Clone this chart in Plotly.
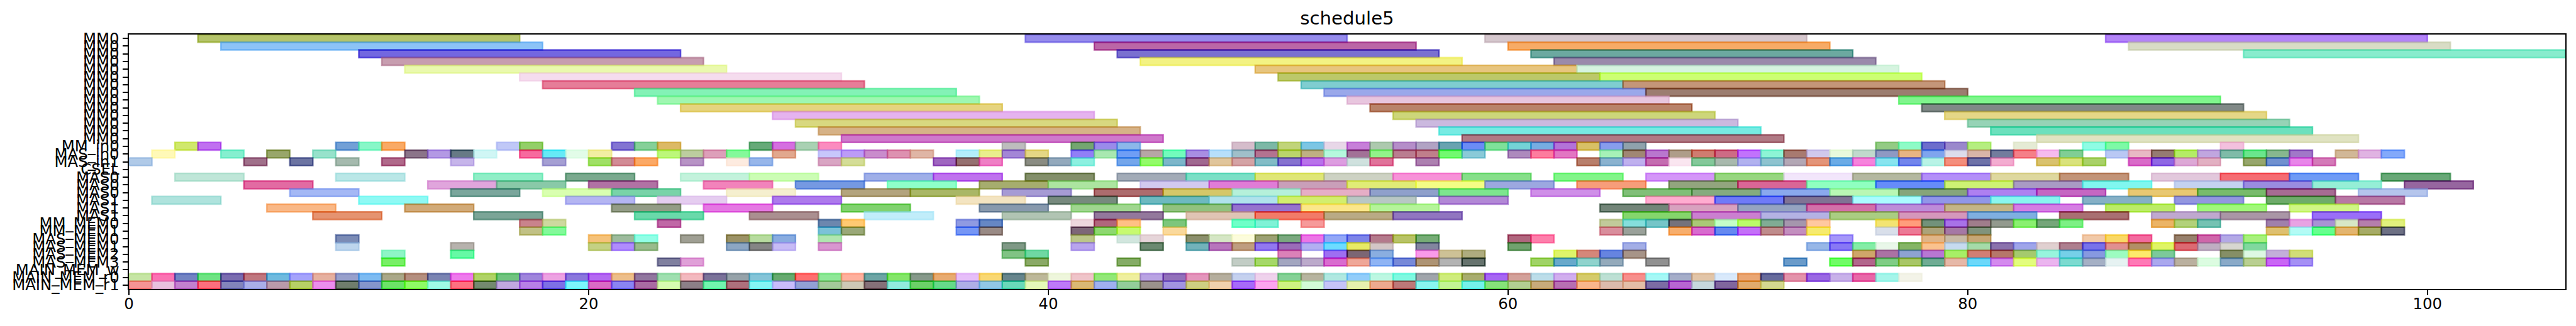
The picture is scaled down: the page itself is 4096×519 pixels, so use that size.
import plotly.graph_objects as go

chart_title = "schedule5"
x_tick_values = [0, 20, 40, 60, 80, 100]
row_labels = ["MM0"] * 14 + ["MM_in0", "MAS_in0", "MAS_in1", "CSEL", "MAS0", "MAS0", "MAS0", "MAS1", "MAS1", "MAS1",
              "MM_MEM0", "MM_MEM1", "MAS_MEM0", "MAS_MEM1", "MAS_MEM2", "MAS_MEM3", "MAIN_MEM_w", "MAIN_MEM_r0", "MAIN_MEM_r1"]
row_durations = [14] * 14 + [1, 1, 1, 1, 3, 3, 3, 3, 3, 3] + [1] * 9

# Each row: task start times, and the colour each task appears with on white.
s00 = [3, 39, 59, 86]
c00 = ["#b5c46b", "#968cec", "#d5c7cd", "#b384f7"]
s01 = [4, 42, 60, 87]
c01 = ["#8cc3f7", "#bb66a6", "#f7ab64", "#d8dcc5"]
s02 = [10, 43, 61, 92]
c02 = ["#7367e0", "#7a70d0", "#6ca9a0", "#88eccd"]
s03 = [11, 44, 62]
c03 = ["#c79daf", "#f3f283", "#9a8aab"]
s04 = [12, 49, 63]
c04 = ["#eaf9ae", "#e7c57f", "#d6f4e0"]
s05 = [17, 50, 64]
c05 = ["#f5dcee", "#bcc86a", "#ccff73"]
s06 = [18, 51, 65]
c06 = ["#e67d98", "#7fcdd0", "#c49679"]
s07 = [22, 52, 66]
c07 = ["#83f2b6", "#9aa8ea", "#9c7d70"]
s08 = [23, 53, 77]
c08 = ["#9ff7b1", "#e8c6de", "#80f58d"]
s09 = [24, 54, 78]
c09 = ["#e6d47f", "#b9836a", "#808987"]
s10 = [28, 55, 79]
c10 = ["#e5b3ef", "#cdd67a", "#e5d787"]
s11 = [29, 56, 80]
c11 = ["#d8d880", "#cbb9df", "#96d3b6"]
s12 = [30, 57, 81]
c12 = ["#d6b287", "#77ebe3", "#6ce0bd"]
s13 = [31, 58, 83]
c13 = ["#cf78cb", "#b07a85", "#e0e3c2"]

s14 = [2, 3, 9, 10, 11, 16, 17, 21, 22, 23, 27, 28, 29, 30, 38, 41, 42, 43,
       48, 49, 50, 51, 52, 53, 54, 55, 56, 57, 58, 59, 60, 61, 62, 63, 64, 65,
       76, 77, 78, 79, 80, 82, 85, 86, 91]
c14 = ["#d0e86c", "#c070f0", "#72a0d6", "#88f7c8", "#f9aa60", "#c0c8f7", "#93cf68", "#8374d2", "#85d098", "#dcb964",
       "#65aa78", "#d56fe0", "#a9d1b3", "#fb8cbf", "#bdbdbd", "#74a670", "#9a8bea", "#8cb8ea",
       "#d5bdcb", "#7cb8a6", "#c1d47a", "#7cc6e4", "#e8d7e8", "#c77fd9", "#adc9ae", "#b58ec9", "#b1a3c4", "#68a3b0",
       "#6b8cf5", "#7fe19a", "#74d4d6", "#76ade2", "#b373d8", "#d8c060", "#879ded", "#8fa2ac",
       "#93cb84", "#8efbc7", "#6d6dcc", "#9a88cc", "#b5ee80", "#e5ebd5", "#8ffce4", "#7dfaa6", "#f3c0de"]
s15 = [1, 4, 6, 8, 12, 13, 14, 15, 17, 18, 19, 20, 23, 24, 25, 26, 28, 30, 31, 32, 33, 34, 36, 37, 38, 39, 41, 42,
       43, 44, 45, 46, 47, 48, 49, 50, 51, 52, 53, 54, 55, 56, 57, 58, 60, 61, 62, 64, 65, 66,
       67, 68, 69, 70, 71, 72, 73, 74, 75, 76, 77, 78, 79, 80, 81, 82, 83, 84, 86, 87,
       88, 89, 90, 91, 92, 93, 94, 96, 97, 98]
c15 = ["#fff9b8", "#85efcf", "#98a66a", "#97e2cb", "#8b7489", "#b399e4", "#677a85", "#d0f6f5", "#f76a9e", "#64eaf6",
       "#e2fce8", "#f2eea2", "#bcf77a", "#bccd9f", "#dd9fb9", "#84f99a", "#e1a88e", "#c7c7fb", "#bc9bf7", "#c98ccc",
       "#dd91b0", "#dfb5a5", "#b3eefb", "#e9ef8d", "#a386d6", "#e4d785", "#917ff7", "#a8e8b0",
       "#6f9ef5", "#b7a6a5", "#72fcbc", "#a88ee3", "#b7dffa", "#a0bfc9", "#b47390", "#bad56b", "#bfb083", "#b5f8dd",
       "#a27297", "#92f38a", "#ba7d90", "#c07f8b", "#72f970", "#8acad8", "#ad8abd", "#fd7c9e", "#e276c2", "#a6f1b7",
       "#a08774", "#b977ce",
       "#ae9d89", "#cf7c70", "#ce6b85", "#c272fc", "#8df4d5", "#a87a70", "#d0c8ec", "#e8f9dc", "#c0d9cc", "#8f99c3",
       "#e8b484", "#7fa5ee", "#dcdceb", "#d8b5a8", "#727c9d", "#f57f88", "#f6bbee", "#80ce95", "#b9c8f4", "#e8b8c4",
       "#957b72", "#b4ec60", "#c0a6df", "#7fbba8", "#6ae68c", "#87b78f", "#a178c8", "#d1b797", "#e0b3e2", "#83a9fa"]
s16 = [0, 5, 7, 9, 11, 14, 18, 20, 21, 22, 24, 26, 27, 30, 31, 35, 36, 37, 39, 40, 41,
       43, 44, 45, 46, 47, 48, 49, 50, 51, 52, 53, 54, 56, 63, 64, 65, 66,
       67, 68, 69, 70, 71, 72, 73, 74, 75, 76, 77, 78, 79, 80, 81, 83, 84, 85, 87, 88, 89, 90,
       92, 93, 94, 95]
c16 = ["#b0cae8", "#a0708a", "#6c74a2", "#a5baae", "#b0698a", "#c6b5ea", "#a59fd3", "#a0e062", "#d28b95", "#fba964",
       "#b793c5", "#fdebe0", "#97b6ea", "#d9a5c3", "#d4dd97", "#9f66c0", "#957070", "#ef7fc5", "#8a8c82", "#93a9bc", "#8cf0e0",
       "#74a6eb", "#93fb69", "#7cb6ca", "#a06890", "#e0c59b", "#d4a3a5", "#82bcc6", "#8672cf", "#b872ea", "#dd9de0",
       "#cfe1de", "#e0739a", "#ad80b0", "#b87f6c", "#8ab2cf", "#bfb0ee", "#c46cb0",
       "#fae6f0", "#84c89a", "#a8b9ad", "#b1b1ef", "#8ec3cf", "#b3a7b5", "#e39479", "#6babe6", "#f683dc", "#88e4ef",
       "#7285ec", "#b8f3e6", "#f48e7c", "#6e72a8", "#f3acd0", "#d9c26e", "#d9e27c", "#a9d168", "#d96bc8", "#8f67e4",
       "#dda8d6", "#e2b0c2",
       "#97a66c", "#7090cf", "#e885e9", "#d47ab8"]
s17 = []
c17 = []

s18 = [2, 9, 15, 19, 24, 27, 32, 35, 39, 43, 46, 49, 52, 55, 58, 62, 66, 69, 72, 75, 78, 81, 84, 88, 91, 94, 98]
c18 = ["#bfe6d8", "#bae7e7", "#90eec7", "#7aa98e", "#c3f2dc", "#ccfdb5", "#9fafe8", "#bf72ee", "#838f6a", "#a2abb7",
       "#7bdfc6", "#dfe677", "#cdd2c3", "#f792d8", "#86df8a", "#82f58a", "#d496f8", "#97d680", "#f2e6fb", "#b4b8a0",
       "#b38ff8", "#ded89f", "#c29478", "#e2c8dc", "#f56c72", "#6f9bf5", "#68a877"]
s19 = [5, 13, 16, 20, 25, 29, 33, 37, 40, 44, 47, 50, 53, 56, 59, 63, 67, 70, 73, 76, 79, 82, 85, 89, 92, 95, 99]
c19 = ["#e26ba2", "#e0a5dc", "#89c9a8", "#b172a4", "#f283bb", "#7599e2", "#8effc9", "#a6ad6e", "#ace5a0", "#d2c9ef",
       "#e07cd6", "#c99fb9", "#e0ec76", "#f4fd85", "#9ca8e0", "#f79d7a", "#92a57e", "#da6696", "#8fffc0", "#668cfa",
       "#cdf274", "#a99ac4", "#80f7ef", "#c4d2f0", "#9a8ce0", "#95efd6", "#96649f"]
s20 = [7, 14, 18, 21, 26, 31, 34, 38, 42, 45, 48, 51, 54, 57, 61, 65, 68, 71, 74, 77, 80, 83, 87, 90, 93, 97]
c20 = ["#a4b8f5", "#7aa69c", "#d9ffb0", "#79d3a8", "#f5efcf", "#b3a47e", "#a9b763", "#a69bd4", "#ad6c6e", "#d5c769",
       "#b5f0da", "#e6aec6", "#8fa0cb", "#7de58e", "#cf8fe8", "#80bf78", "#85ab7f", "#8aa9ee", "#b9f7b4", "#86a57a",
       "#ae80f0", "#c566c2", "#e8c872", "#78bb6c", "#a66b92", "#b5c5ec"]
s21 = [1, 10, 19, 23, 28, 36, 40, 44, 47, 50, 53, 57, 66, 69, 72, 75, 78, 81, 85, 89, 93, 96]
c21 = ["#afe3dd", "#8ff9f4", "#b4b5f2", "#e5cdf0", "#ad7aec", "#f3e4c1", "#778a7e", "#6db9c0", "#b0e2ec", "#d3ee6e",
       "#b8c7c4", "#b288d6", "#ffacd0", "#6f7af8", "#807394", "#abfbff", "#9196e8", "#89f6ef", "#85b0c6", "#9396e0",
       "#6eab6a", "#b878a4"]
s22 = [6, 12, 21, 25, 31, 37, 41, 45, 48, 51, 54, 64, 67, 70, 73, 76, 79, 82, 86, 90, 94]
c22 = ["#f9b887", "#d1aa78", "#939c86", "#e578e3", "#80d26f", "#8799ad", "#9fd68f", "#91c27e", "#9672ce", "#fbe78b",
       "#b5f49a", "#728578", "#d8a2bf", "#95a3c1", "#d370a9", "#bd8cd8", "#c4b586", "#d57ee3", "#bbec67", "#a0f87a", "#d0f685"]
s23 = [8, 15, 22, 27, 32, 38, 42, 46, 49, 52, 55, 65, 68, 71, 74, 77, 80, 84, 88, 91, 95]
c23 = ["#e59370", "#7ba597", "#6ad9aa", "#aa8f90", "#c1edfa", "#b1c4b3", "#93789c", "#dfc4b4", "#f27b68", "#b9aa85",
       "#9176c0", "#85d66c", "#cb7fd0", "#b4b2e3", "#aacd82", "#d597bb", "#7fafe0", "#a96f72", "#bfa8cf", "#aa96a6", "#9a6ef8"]

s24 = [17, 18, 23, 30, 31, 36, 37, 41, 42, 43, 45, 48, 49, 51, 64, 65, 66, 67, 68, 69, 70, 71, 72, 73,
       76, 77, 78, 79, 80, 81, 82, 83, 84, 88, 89, 90, 93, 94, 95, 96, 97, 98]
c24 = ["#c9838c", "#ced99f", "#c068a6", "#6c87ae", "#ffc972", "#8f9ae2", "#6687c4", "#eed7de", "#b0667c", "#ffc085",
       "#7cc67c", "#6fffc8", "#7ff2d6", "#f69a9a", "#c1ca9a", "#85dedc", "#75c5c8", "#75727c", "#aac876", "#c3ffc8",
       "#bbfc6a", "#80ac94", "#a596ad", "#ffc8a0", "#f3e472", "#ff9d7c", "#72927a", "#a872e8", "#a07d8b", "#939a8e",
       "#8af070", "#75a67a", "#7df085", "#ebb463", "#b2d17a", "#75c2b3", "#a080ab", "#e8a3e3", "#a892d4", "#d7e7c5",
       "#b57eab", "#e1f07d"]
s25 = [17, 18, 30, 31, 36, 37, 41, 42, 43, 45, 64, 65, 67, 68, 69, 70, 71, 72, 73, 76, 77, 78, 79, 80, 93, 94, 95, 96, 97, 98]
c25 = ["#c1c185", "#83f99a", "#7cc2d8", "#9aa878", "#7696f5", "#998a85", "#7d6478", "#8ed870", "#c7fa70", "#fad99c",
       "#d98e9c", "#9aa19a", "#f7ae6d", "#d86bce", "#6489f0", "#c470f8", "#bf8c8c", "#c38fbf", "#f6ea6f", "#d9dfea",
       "#ec7a96", "#aca37a", "#a578a5", "#80937c", "#dec070", "#b3fbf5", "#65ff8e", "#e3b56f", "#a6ab66", "#6d7084"]
s26 = [9, 20, 21, 22, 24, 26, 27, 28, 30, 41, 43, 44, 46, 47, 48, 49, 50, 51, 52, 53, 54, 55, 56, 60, 61,
       74, 78, 79, 80, 85, 86, 87, 89, 90, 91, 92]
c26 = ["#7b8bb5", "#f5c27a", "#9dbb9d", "#92fee6", "#9f9f93", "#9b9265", "#b7db9f", "#89ace0", "#b0e6b0", "#bcc68a",
       "#d2e6de", "#e6d5d9", "#8b8f6c", "#d5e6c5", "#fcfcdc", "#9ba073", "#7aa87f", "#ec76e6", "#93a7f7", "#7d84e8",
       "#b47a8c", "#b8c363", "#76ac76", "#b0657e", "#fd7fab", "#a597f9", "#e0b588", "#c8baa6", "#c6a776", "#f1c9a8",
       "#f9d862", "#f26b9f", "#97806c", "#cf64aa", "#b3a9e6", "#a8f07e"]
s27 = [9, 14, 20, 21, 22, 26, 27, 28, 30, 38, 41, 44, 46, 47, 48, 49, 50, 51, 52, 53, 54, 56, 60, 65,
       73, 74, 75, 76, 77, 78, 79, 80, 81, 82, 83, 84, 85, 86, 87, 88, 89, 90, 91, 92]
c27 = ["#bdd5ed", "#b7b2ad", "#c4d184", "#b08cfd", "#99bb8c", "#8ca6c3", "#858585", "#c7bbf5", "#d996d0", "#7f9986",
       "#b8a4ee", "#6b8970", "#72b2ba", "#b775bc", "#bf9d80", "#9278f0", "#9b6cb8", "#b2aff2", "#6ddcff", "#e8ea65",
       "#d3c6c6", "#82859f", "#70a26e", "#a3aee6", "#97b7e7", "#8878f5", "#84eda7", "#e9f7e9", "#85b562", "#fac28e",
       "#c6dbf0", "#a5dba9", "#8b72ad", "#9fa5ea", "#e0d0d0", "#ae7f8f", "#7872ea", "#e09090", "#b28f60", "#e0f565",
       "#dc6a72", "#bfaec2", "#d7d6d0", "#80d89e"]
s28 = [11, 14, 38, 39, 50, 52, 53, 54, 56, 57, 58, 62, 63, 64, 65,
       75, 76, 77, 78, 79, 80, 81, 82, 83, 84, 85, 86, 87, 88, 91, 92, 93, 94]
c28 = ["#8ef5c6", "#65f9a5", "#80c384", "#6fd8a3", "#db81b8", "#9e6ff2", "#7c6674", "#8aaee0", "#f99ae9", "#cdc196",
       "#aeac7f", "#def46a", "#d5877a", "#6184e0", "#a79488", "#cfa66a", "#ab72a4", "#8ea3d2", "#b777d3", "#a7ef60",
       "#d17e74", "#b6776a", "#a5ca6e", "#97f5dd", "#76d0e8", "#8799e0", "#9cfcc0", "#fde96c", "#7cc99a", "#858f63",
       "#ddf8e3", "#c3aed9", "#d1de77"]
s29 = [11, 23, 24, 39, 43, 48, 49, 50, 51, 52, 53, 54, 55, 56, 57, 58, 61, 62, 63, 64, 66,
       72, 74, 75, 76, 77, 78, 79, 80, 81, 82, 83, 84, 85, 86, 87, 88, 89, 90, 91, 92, 93, 94]
c29 = ["#78ef5e", "#80809f", "#e0a0d8", "#8aa95c", "#85ac60", "#c2cdc5", "#a5d868", "#a3a6c0", "#bcaacb", "#d96ccf",
       "#efa798", "#8fb4f4", "#7789d8", "#ae9474", "#b3b3b3", "#66736e", "#a0d365", "#68a9cb", "#90d3cd", "#94aabb",
       "#919191", "#6a9bca", "#70fc62", "#b2668c", "#7fcd85", "#a8c665", "#6fac94", "#e6b8a8", "#6cd8fa", "#d48aee",
       "#e3fd7e", "#ebb5ef", "#7cdad0", "#a5b0c5", "#e6f2f2", "#ff79b6", "#aaa8ee", "#bab09f", "#dcfce1", "#8aaac8",
       "#b9cf91", "#c965f5", "#a590f5"]
s30 = []
c30 = []
s31 = list(range(0, 78))
c31 = ["#c6e5a4", "#fb73b3", "#7283c3", "#6ee383", "#7a6cb0", "#c0777f", "#6ebadf", "#a5a3fb", "#e6b09f", "#98a0cc",
       "#7dbbf2", "#aaa888", "#b48f7f", "#7a84b2", "#ee7aec", "#b0d366", "#70c47f", "#9f85dc", "#eda2e2", "#8a77dd",
       "#b469f2", "#edbe8a", "#91769f", "#9fdfb0", "#f3b9bf", "#7a7299", "#96a2a9", "#84c4d8", "#64aa6f", "#ff6f6f",
       "#8fe898", "#ffb09d", "#6da5a5", "#84e669", "#86998a", "#e8ab70", "#e6bef9", "#f9d873", "#60858c", "#bdb899",
       "#eef6dc", "#efc4c9", "#92e878", "#efef9f", "#b9a3e3", "#9270bb", "#e495bc", "#b5ae9d", "#c5d1ef", "#efd2ec",
       "#85d196", "#b7b49f", "#b0e8e1", "#92cdfa", "#bdf7e2", "#7ff9e1", "#a0a5ab", "#cfec7d", "#a8ad6e", "#a663f3",
       "#d3a19a", "#bcdde9", "#d1aeee", "#d5cb6b", "#bde0d4", "#f78f8c", "#a5f8f6", "#a5adc9", "#e2c5a8", "#d9e9fb",
       "#eaa673", "#646a9c", "#e393ab", "#9a68e3", "#c8b1e9", "#e867a8", "#a5f5ea", "#f3f3e8"]
s32 = list(range(0, 72))
c32 = ["#f59494", "#e8c0dd", "#c380ce", "#fc6f7d", "#8284bb", "#a9aee8", "#b99aaa", "#b7d060", "#eb8eed", "#6f7d6c",
       "#8595cb", "#6ce368", "#8ffb62", "#9ffbe5", "#ff7080", "#73896f", "#c1a8e0", "#b780e6", "#7d70e6", "#7cf6fb",
       "#d96bc4", "#8a84f3", "#a96ba2", "#d6fcb0", "#8c7f87", "#72f5ae", "#ae707c", "#85f6f3", "#c9bcfa", "#92a0d5",
       "#a3c99a", "#cdc8b5", "#857078", "#92ebde", "#6cd068", "#62d98a", "#afafe6", "#91c7e6", "#6ad9b9", "#e5f9b9",
       "#bd7af8", "#dab874", "#a0b0f0", "#93cd9a", "#9b918b", "#a294e0", "#cece82", "#f0d1ae", "#a76af9", "#fca5ef",
       "#cef282", "#d2fcd6", "#c6c3f7", "#e6f0ae", "#eda98f", "#bd7878", "#89f5f0", "#c3f594", "#75f2ea", "#86e27a",
       "#b2cf92", "#c7ab7a", "#b76fb2", "#f9b68c", "#dcbaac", "#e3bea7", "#7c6ca4", "#b863d1", "#c6d8dd", "#80649d",
       "#e0ab6d", "#d4d78f"]

row_starts = [s00, s01, s02, s03, s04, s05, s06, s07, s08, s09, s10, s11, s12, s13, s14, s15, s16,
              s17, s18, s19, s20, s21, s22, s23, s24, s25, s26, s27, s28, s29, s30, s31, s32]
row_colors = [c00, c01, c02, c03, c04, c05, c06, c07, c08, c09, c10, c11, c12, c13, c14, c15, c16,
              c17, c18, c19, c20, c21, c22, c23, c24, c25, c26, c27, c28, c29, c30, c31, c32]

ALPHA = 0.6
SCALE = 0.877
WIDTH, HEIGHT = 4096, 519


def task_color(shown):
    """Colour which, at ALPHA over white, shows as `shown`."""
    channels = [int(shown[i:i + 2], 16) for i in (1, 3, 5)]
    base = [max(0, round(255 - (255 - c) / ALPHA)) for c in channels]
    return f"rgba({base[0]},{base[1]},{base[2]},{ALPHA})"


y, x, base, colors = [], [], [], []
for row, (starts, shades, duration) in enumerate(zip(row_starts, row_colors, row_durations, strict=True)):
    for start, shade in zip(starts, shades, strict=True):
        y.append(row)
        x.append(duration)
        base.append(start)
        colors.append(task_color(shade))

fig = go.Figure(go.Bar(
    y=y, x=x, base=base, orientation="h", width=1,
    marker=dict(color=colors, line=dict(color=colors, width=2.78 * SCALE)),
    hoverinfo="skip",
))

font = dict(family="DejaVu Sans", color="black")
axis = dict(showgrid=False, zeroline=False, showline=True, linecolor="black", linewidth=2.22 * SCALE,
            mirror=True, ticks="outside", ticklen=9.7 * SCALE, tickwidth=2.22 * SCALE, tickcolor="black",
            tickfont=dict(size=27.8 * SCALE, **font), tickmode="array", automargin=False)

fig.update_layout(
    width=WIDTH, height=HEIGHT, showlegend=False, barmode="overlay",
    paper_bgcolor="white", plot_bgcolor="white",
    margin=dict(l=205, r=17, t=55, b=59, pad=0),
    title=dict(text=chart_title, font=dict(size=33.3 * SCALE, **font), x=0.5, xref="paper", xanchor="center",
               y=1, yref="paper", yanchor="bottom", pad=dict(b=16)),
    xaxis=dict(range=[0, 106], tickvals=x_tick_values, ticktext=[str(v) for v in x_tick_values],
               ticklabelstandoff=-8, **axis),
    yaxis=dict(range=[32.5, -0.5], tickvals=list(range(len(row_labels))), ticktext=row_labels, **axis),
)

fig.write_html("out.html", config=dict(displayModeBar=False),
               post_script="document.body.style.margin='0';document.body.style.overflow='hidden';")
